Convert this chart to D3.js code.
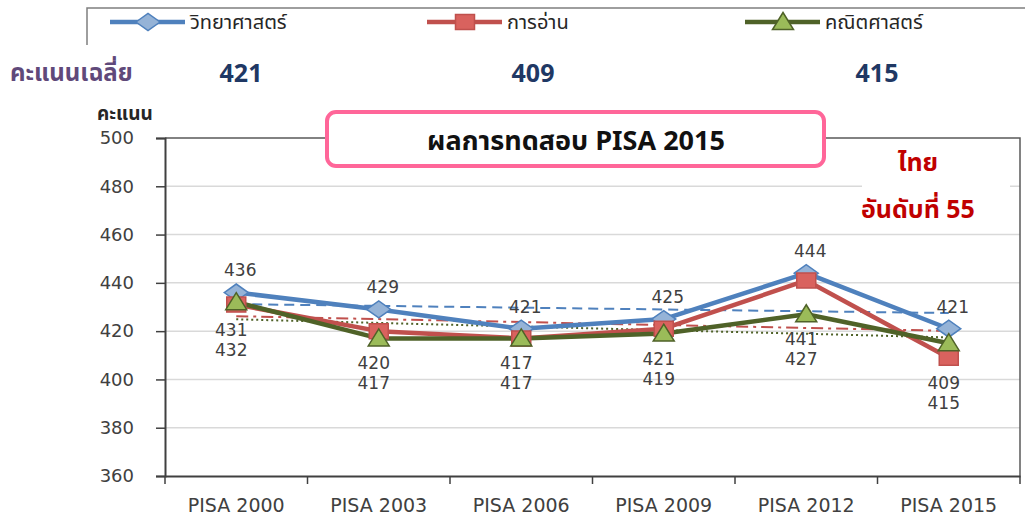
<!DOCTYPE html>
<html><head><meta charset="utf-8">
<script src="https://cdn.jsdelivr.net/npm/d3@7"></script>
<style>
body{margin:0;background:#fff;}
svg{display:block;}
.thai{font-family:"Noto Sans Thai","Noto Sans Thai Looped","Tahoma","DejaVu Sans",sans-serif;}
.num{font-family:"DejaVu Sans",Verdana,sans-serif;}
</style>
</head><body>
<svg id="c" width="1025" height="517"></svg>
<script>
const categories = ["PISA 2000","PISA 2003","PISA 2006","PISA 2009","PISA 2012","PISA 2015"];
const science = [436,429,421,425,444,421];
const reading = [431,420,417,421,441,409];
const math    = [432,417,417,419,427,415];
const trendScience = [431.2,427.5];
const trendReading = [426.2,420.1];
const trendMath    = [424.9,417.4];
const yTicks = [360,380,400,420,440,460,480,500];
const seriesNames = ["วิทยาศาสตร์","การอ่าน","คณิตศาสตร์"];
const averages = [421,409,415];

const svg = d3.select("#c");
const x = d3.scaleBand().domain(categories).range([165,1020]);
const y = d3.scaleLinear().domain([360,500]).range([476,138]);
const cx = d => x(d)+x.bandwidth()/2;

const colors = {
  sci:{line:"#4f81bd",fill:"#95b3d7"},
  rea:{line:"#c0504d",fill:"#d9625e"},
  mat:{line:"#4f6228",fill:"#9bbb59"}
};

// gridlines
svg.append("g").selectAll("line").data(yTicks.filter(t=>t>360&&t<500)).join("line")
  .attr("x1",165).attr("x2",1020).attr("y1",d=>y(d)).attr("y2",d=>y(d))
  .attr("stroke","#d9d9d9").attr("stroke-width",1.5);
// top and right frame
svg.append("path").attr("d",`M165,${y(500)}H1020V${y(360)}`).attr("fill","none").attr("stroke","#595959").attr("stroke-width",1.5);

// axes
const yAxis = d3.axisLeft(y).tickValues(yTicks).tickSize(9).tickPadding(22).tickFormat(d3.format("d"));
const gy = svg.append("g").attr("transform","translate(165,0)").call(yAxis);
gy.select(".domain").attr("stroke","#404040").attr("stroke-width",2);
gy.selectAll(".tick line").attr("stroke","#404040").attr("stroke-width",1.5);
gy.selectAll(".tick text").attr("class","num").attr("font-size",18).attr("fill","#404040");

const xAxis = d3.axisBottom(x).tickSize(0).tickPadding(23);
const gx = svg.append("g").attr("transform",`translate(0,${y(360)})`).call(xAxis);
gx.select(".domain").attr("stroke","#404040").attr("stroke-width",2);
gx.selectAll(".tick text").attr("class","num").attr("font-size",19).attr("fill","#404040");
// band boundary ticks
svg.append("g").selectAll("line").data(categories.concat(["end"])).join("line")
  .attr("x1",(d,i)=>i<categories.length?x(d):x.range()[1])
  .attr("x2",(d,i)=>i<categories.length?x(d):x.range()[1])
  .attr("y1",y(360)).attr("y2",y(360)+8).attr("stroke","#404040").attr("stroke-width",1.5);

// trend lines
const trends = [
  {v:trendScience,c:colors.sci.line,dash:"10,6"},
  {v:trendReading,c:colors.rea.line,dash:"12,5,3,5"},
  {v:trendMath,c:colors.mat.line,dash:"2,3"}
];
trends.forEach(t=>{
  svg.append("line").attr("x1",cx(categories[0])).attr("x2",cx(categories[categories.length-1]))
    .attr("y1",y(t.v[0])).attr("y2",y(t.v[1]))
    .attr("stroke",t.c).attr("stroke-width",2).attr("stroke-dasharray",t.dash);
});

// series lines
const line = d3.line().x((d,i)=>cx(categories[i])).y(d=>y(d));
const series = [
  {v:science,c:colors.sci,m:"diamond"},
  {v:reading,c:colors.rea,m:"square"},
  {v:math,c:colors.mat,m:"triangle"}
];
function markerPath(m){
  if(m==="diamond") return "M-12,0L0,-8.5L12,0L0,8.5Z";
  if(m==="square") return "M-9.5,-7.5H9.5V7.5H-9.5Z";
  return "M0,-9.5L10.5,7.5H-10.5Z";
}
series.forEach(s=>{
  svg.append("path").datum(s.v).attr("d",line).attr("fill","none")
    .attr("stroke",s.c.line).attr("stroke-width",4.5).attr("stroke-linejoin","round");
});
series.forEach(s=>{
  svg.append("g").selectAll("path").data(s.v).join("path")
    .attr("transform",(d,i)=>`translate(${cx(categories[i])},${y(d)})`)
    .attr("d",markerPath(s.m)).attr("fill",s.c.fill).attr("stroke",s.c.line).attr("stroke-width",1.5);
});

// data labels
const lab = svg.append("g").attr("class","num").attr("font-size",17).attr("fill","#404040").attr("text-anchor","middle");
science.forEach((v,i)=>{
  lab.append("text").attr("x",cx(categories[i])+4).attr("y",y(v)-22).attr("dy","0.35em").text(v);
});
reading.forEach((v,i)=>{
  const base = y(Math.min(reading[i],math[i]));
  lab.append("text").attr("x",cx(categories[i])-5).attr("y",base+25).attr("dy","0.35em").text(v);
  lab.append("text").attr("x",cx(categories[i])-5).attr("y",base+45).attr("dy","0.35em").text(math[i]);
});

// y title
svg.append("text").attr("class","thai").attr("x",97).attr("y",120).attr("font-size",19).attr("font-weight","bold").attr("fill","#262626").text("คะแนน");

// legend frame
svg.append("path").attr("d","M87,45V8H1025").attr("fill","none").attr("stroke","#7f7f7f").attr("stroke-width",1.5);
const legX = [110,427,745];
series.forEach((s,i)=>{
  const g = svg.append("g").attr("transform",`translate(${legX[i]},22)`);
  g.append("line").attr("x1",0).attr("x2",75).attr("stroke",s.c.line).attr("stroke-width",4.5);
  g.append("path").attr("transform","translate(38,0)").attr("d",markerPath(s.m)).attr("fill",s.c.fill).attr("stroke",s.c.line).attr("stroke-width",1.5);
  g.append("text").attr("class","thai").attr("x",80).attr("dy","0.35em").attr("font-size",20).attr("fill","#262626").text(seriesNames[i]);
});

// averages row
svg.append("text").attr("class","thai").attr("x",10).attr("y",73).attr("dy","0.35em").attr("font-size",24).attr("font-weight","bold").attr("fill","#60497a").text("คะแนนเฉลี่ย");
const avgX = [241,533,877];
averages.forEach((v,i)=>{
  svg.append("text").attr("class","thai").attr("x",avgX[i]).attr("y",73).attr("dy","0.35em").attr("text-anchor","middle")
    .attr("font-size",25).attr("font-weight","bold").attr("fill","#1f3864").text(v);
});

// title box
svg.append("rect").attr("x",327).attr("y",112).attr("width",497).attr("height",54).attr("rx",9)
  .attr("fill","#fff").attr("stroke","#ff6699").attr("stroke-width",4);
svg.append("text").attr("class","thai").attr("x",576).attr("y",141).attr("dy","0.35em").attr("text-anchor","middle")
  .attr("font-size",27).attr("font-weight","bold").attr("fill","#111").text("ผลการทดสอบ PISA 2015");

// rank box
svg.append("rect").attr("x",862).attr("y",142).attr("width",148).attr("height",84).attr("fill","#fff");
svg.append("text").attr("class","thai").attr("x",918).attr("y",162).attr("dy","0.35em").attr("text-anchor","middle")
  .attr("font-size",25).attr("font-weight","bold").attr("fill","#c00000").text("ไทย");
svg.append("text").attr("class","thai").attr("x",918).attr("y",209).attr("dy","0.35em").attr("text-anchor","middle")
  .attr("font-size",25).attr("font-weight","bold").attr("fill","#c00000").text("อันดับที่ 55");
</script>
</body></html>
